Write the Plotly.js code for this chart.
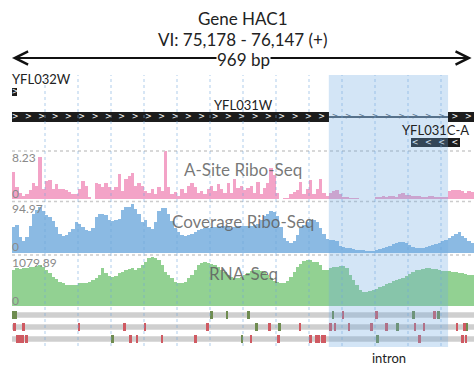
<!DOCTYPE html>
<html><head><meta charset="utf-8">
<script src="https://cdn.plot.ly/plotly-3.0.1.min.js"></script>
<style>html,body{margin:0;padding:0;background:#fff}#chart{width:474px;height:367px}</style>
</head><body><div id="chart"></div>
<script>
// ---- data (positions in bp from 75,178) ----
const BIN = 7;
const aSite = [4.65,2.0,1.0,0.5,0.8,1.5,2.8,2.2,7.2,1.8,3.1,3.3,1.7,2.5,1.8,1.7,1.6,1.25,0.85,0.9,1.8,3.1,2.2,0.3,0,2.8,2.6,2.0,2.8,2.0,1.5,2.0,4.3,1.4,3.4,4.0,4.5,2.3,2.8,2.3,1.4,1.1,1.7,0.85,2.0,1.4,8.23,
 2.0,0.85,1.2,0.6,1.7,1.1,2.3,2.8,2.0,1.1,1.4,0.85,1.7,2.3,1.4,2.5,1.7,1.1,2.8,1.1,3.4,1.9,2.2,1.5,1.9,2.2,1.0,2.9,0.8,1.9,2.7,5.3,4.1,1.0,0,0.2,0.2,0.8,1.2,1.5,2.9,0.8,1.8,3.2,0.8,1.8,3.5,1.0,0.5,
 1.1,1.4,1.6,0.85,0.3,0.3,0.2,0.2,0.2,0.05,0.05,0,0.05,0.05,0.4,0.3,0.45,0.3,0.5,0.55,0.4,0.85,1.0,0.7,0.7,0.45,0.55,0.6,0.3,0.35,0.45,0.6,0.4,0.35,0.3,0.3,
 1.4,1.6,1.6,1.5,1.3,1.1,1.4,1.2];
const coverage = [50,54,31,23,31,52,75,82,87,79,72,69,61,49,36,33,35,39,46,59,56,50,44,41,48,69,74,75,72,62,61,62,65,82,87,88,94,83,75,59,62,49,46,59,79,85,85,
 75,60,48,40,34,33,35,36,40,43,46,47,48,49,50,52,52,51,49,48,50,52,51,51,52,52,53,56,62,70,75,79,77,70,50,28,22,19,22,35,47,54,58,63,62,
 58,48,36,27,24,24,22,14,12,10,9,7,6.5,6,5,3,3,3.5,6,7,9,11,14,17,19,20,20,19,15,11,10,10,10,11,13,15,17,19,22,25,29,33,37,39,33,28,22,19];
const rnaSeq = [792,828,806,828,828,850,864,878,900,864,792,720,648,590,540,504,468,468,454,468,504,504,518,540,576,626,684,828,720,662,634,662,720,756,792,806,828,792,828,900,972,1066,1079.89,1066,1008,900,756,
 684,612,540,504,504,540,612,684,792,900,950,972,950,922,900,864,800,740,690,650,620,610,630,680,730,780,800,800,780,740,680,610,550,520,505,510,560,648,756,850,936,994,1022,1008,980,960,900,800,790,
 828,850,864,880,880,828,684,576,468,360,302,302,324,360,380,420,440,480,500,550,570,600,620,670,700,760,790,800,820,830,830,810,805,800,780,775,770,756,750,734,730,700,690,680];
const trackNames = ['A-Site Ribo-Seq','Coverage Ribo-Seq','RNA-Seq'];
const trackMax = [8.23, 94.97, 1079.89];
const trackMaxLabels = ['8.23','94.97','1079.89'];

const geneNames = ['YFL032W','YFL031W','YFL031C-A'];
const geneStarts = [0, 0, 846];
const geneEnds = [11, 980, 950];
const geneRows = [1, 2, 3];
const geneStrands = ['+','+','-'];
const intronStart = 672, intronEnd = 925;

const redPos = [702,774,897, 6,25,142,238,282,414,547,611,675,685,715,762,795,855,874,944,959, 11,17,23,30,252,265,318,390,507,566,634,645,651,658,664,865,955,963];
const redRow = [1,1,1, 2,2,2,2,2,2,2,2,2,2,2,2,2,2,2,2,2, 3,3,3,3,3,3,3,3,3,3,3,3,3,3,3,3,3,3];
const greenPos = [2,8,424,456,501,681,851,904, 518,568,817,965, 214,488,776];
const greenRow = [1,1,1,1,1,1,1,1, 2,2,2,2, 3,3,3];
const gridStep = 70, viewEnd = 980;

// ---- helpers ----
const H = 367, py = p => 1 - p / H;
const binX = aSite.map((_, i) => i * BIN + BIN / 2);
const FONT = 'Lato, "Open Sans", sans-serif';

const traces = [];
const cols = ['#f3a3c7', '#8bbae3', '#92d192'];
[aSite, coverage, rnaSeq].forEach((arr, t) => {
  traces.push({type:'bar', x: binX, y: arr, width: BIN, xaxis:'x', yaxis: t === 0 ? 'y' : 'y' + (t + 1),
    marker:{color: cols[t], line:{width:0}}, hoverinfo:'skip'});
});
// variant marks
const MH = 0.62;
traces.push({type:'bar', x: redPos, y: redPos.map(() => MH), base: redRow.map(r => r - MH/2), width: 6,
  xaxis:'x', yaxis:'y4', marker:{color:'#cf5a62', line:{width:0}}, hoverinfo:'skip'});
traces.push({type:'bar', x: greenPos, y: greenPos.map(() => MH), base: greenRow.map(r => r - MH/2), width: 6,
  xaxis:'x', yaxis:'y4', marker:{color:'#6f8c50', line:{width:0}}, hoverinfo:'skip'});

// genes: exons & intron
const exS = [], exL = [], exR = [], exW = [];
geneNames.forEach((g, i) => {
  const s = geneStarts[i], e = geneEnds[i], r = geneRows[i];
  const w = i === 0 ? 0.3 : (i === 2 ? 0.36 : 0.4);
  if (intronStart > s && intronEnd < e) {
    exS.push(s); exL.push(intronStart - s); exR.push(r); exW.push(w);
    exS.push(intronEnd); exL.push(e - intronEnd); exR.push(r); exW.push(w);
  } else { exS.push(s); exL.push(e - s); exR.push(r); exW.push(w); }
});
traces.push({type:'bar', orientation:'h', base: exS, x: exL, y: exR, width: exW, xaxis:'x', yaxis:'y5',
  marker:{color:'#1c1c1c', line:{width:0}}, hoverinfo:'skip'});
traces.push({type:'bar', orientation:'h', base:[intronStart], x:[intronEnd - intronStart], y:[geneRows[1]], width:[0.08],
  xaxis:'x', yaxis:'y5', marker:{color:'#4d5966', line:{width:0}}, hoverinfo:'skip'});
// strand chevrons
const chX = [], chY = [], chT = [], chC = [];
geneNames.forEach((g, i) => {
  for (let k = 0; k < 40; k++) {
    const p = 6.4 + k * 28.28;
    if (p > geneStarts[i] && p < geneEnds[i]) {
      chX.push(p); chY.push(geneRows[i]); chT.push(geneStrands[i] === '+' ? '>' : '<');
      chC.push(i === 1 && p > intronStart && p < intronEnd ? '#4d5966' : '#ffffff');
    }
  }
});
traces.push({type:'scatter', mode:'text', x: chX, y: chY, text: chT, xaxis:'x', yaxis:'y5',
  textfont:{color: chC, size: 8, family: 'DejaVu Sans'}, hoverinfo:'skip'});

// ---- shapes ----
const shapes = [];
[1, 2, 3].forEach(r => shapes.push({type:'rect', xref:'x', yref:'y4', x0:0, x1:viewEnd, y0:r - 0.22, y1:r + 0.22,
  fillcolor:'#cfcfcf', line:{width:0}, layer:'below'}));
[151, 201.5, 255].forEach(p => shapes.push({type:'line', xref:'paper', yref:'paper', x0:0, x1:1, y0:py(p), y1:py(p),
  line:{color:'#cccccc', width:1.5, dash:'dot'}, layer:'above'}));
for (let g = gridStep; g < viewEnd; g += gridStep) {
  shapes.push({type:'line', xref:'x', yref:'paper', x0:g, x1:g, y0:py(346), y1:py(75),
    line:{color:'rgba(110,165,220,0.55)', width:1, dash:'dot'}, layer:'above'});
}
shapes.push({type:'rect', xref:'x', yref:'paper', x0:intronStart, x1:intronEnd, y0:py(347), y1:py(75),
  fillcolor:'rgba(110,170,225,0.3)', line:{width:0}, layer:'above'});

// ---- annotations ----
const ann = [];
const A = o => Object.assign({showarrow:false, xanchor:'center', yanchor:'middle'}, o);
ann.push(A({xref:'paper', yref:'paper', x:0.5, y:py(18), text:'Gene HAC1', font:{size:17, color:'#222'}}));
ann.push(A({xref:'paper', yref:'paper', x:0.5, y:py(39), text:'VI: 75,178 - 76,147 (+)', font:{size:17, color:'#222'}}));
ann.push({xref:'x', yref:'paper', x:0, y:py(58), ax:230, ay:0, text:'', showarrow:true, arrowhead:5, arrowsize:1.3, arrowwidth:2, arrowcolor:'#111', standoff:0});
ann.push({xref:'x', yref:'paper', x:975, y:py(58), ax:-230, ay:0, text:'', showarrow:true, arrowhead:5, arrowsize:1.3, arrowwidth:2, arrowcolor:'#111', standoff:0});
ann.push(A({xref:'paper', yref:'paper', x:0.5, y:py(59), text:'969 bp', bgcolor:'#ffffff', borderpad:0, font:{size:17, color:'#222'}}));
geneNames.forEach((g, i) => {
  const left = i === 0;
  ann.push(A({xref:'x', yref:'y5', x: left ? geneStarts[i] : (geneStarts[i] + geneEnds[i]) / 2, xanchor: left ? 'left' : 'center',
    xshift: left ? -2 : 0, y: geneRows[i], yshift: 12.5, text: g, font:{size:13, color:'#222'}}));
});
const topPx = [157, 208, 262], zeroPx = [193, 246, 300], namePx = [169, 221, 273];
trackNames.forEach((n, t) => {
  ann.push(A({xref:'paper', yref:'paper', x:0, xanchor:'left', xshift:-2, y:py(topPx[t]), text: trackMaxLabels[t], font:{size:12, color:'#8a8a8a'}}));
  ann.push(A({xref:'paper', yref:'paper', x:0, xanchor:'left', xshift:-2, y:py(zeroPx[t]), text:'0', font:{size:12, color:'#8a8a8a'}}));
  ann.push(A({xref:'paper', yref:'paper', x:0.5, y:py(namePx[t]), text:n, font:{size:17, color:'rgba(95,95,95,0.85)'}}));
});
ann.push(A({xref:'x', yref:'paper', x:(intronStart + intronEnd) / 2 + 1, y:py(358), text:'intron', font:{size:13, color:'#222'}}));

const layout = {
  width:474, height:367, margin:{l:12, r:0, t:0, b:0}, paper_bgcolor:'#ffffff', plot_bgcolor:'rgba(0,0,0,0)',
  showlegend:false, barmode:'overlay', bargap:0, hovermode:false, font:{family:FONT, color:'#222'},
  xaxis:{range:[0, viewEnd], visible:false, fixedrange:true},
  yaxis:{domain:[py(199), py(151)], range:[0, trackMax[0]], visible:false},
  yaxis2:{domain:[py(253), py(203)], range:[0, trackMax[1]], visible:false},
  yaxis3:{domain:[py(306), py(257)], range:[0, trackMax[2]], visible:false},
  yaxis4:{domain:[py(345), py(309)], range:[3.5, 0.5], visible:false},
  yaxis5:{domain:[py(150), py(75)], range:[3.297, 0.327], visible:false},
  shapes: shapes, annotations: ann
};
Plotly.newPlot('chart', traces, layout, {staticPlot:true, displayModeBar:false});
</script></body></html>
